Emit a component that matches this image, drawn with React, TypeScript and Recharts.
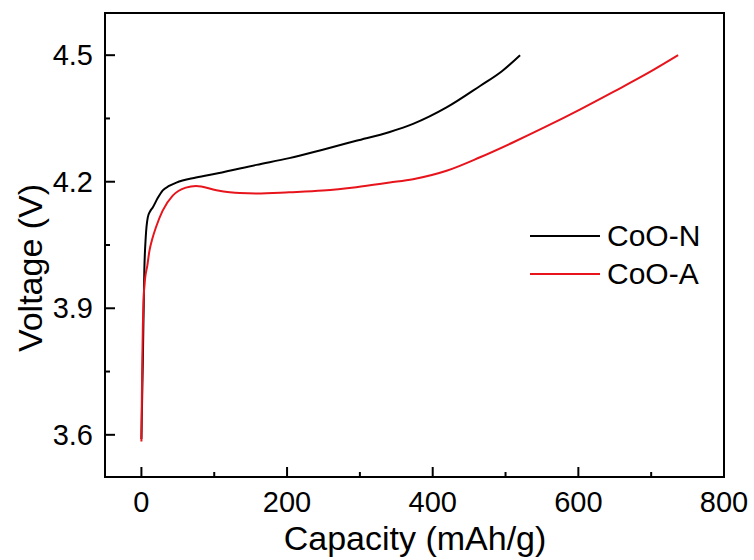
import React from "react";
import {
  LineChart,
  Line,
  XAxis,
  YAxis,
  Legend,
  ReferenceArea,
} from "recharts";

// CoO-N charge curve
const capN = [0, 2, 4, 6, 8.7, 12, 15.6, 22, 29, 38, 48, 75, 105, 158, 203, 249, 295, 341, 373, 419, 465, 495, 520];
const voltN = [3.59, 3.78, 3.99, 4.07, 4.115, 4.13, 4.139, 4.16, 4.179, 4.19, 4.198, 4.21, 4.22, 4.24, 4.256, 4.276, 4.297, 4.318, 4.337, 4.376, 4.427, 4.462, 4.5];

// CoO-A charge curve
const capA = [0, 1, 2, 3, 5, 8, 11, 15, 20, 29, 43, 61, 75, 103, 135, 158, 203, 249, 295, 341, 373, 419, 465, 510, 556, 602, 648, 694, 737];
const voltA = [3.584, 3.75, 3.86, 3.92, 3.97, 4.0, 4.036, 4.065, 4.092, 4.131, 4.167, 4.186, 4.19, 4.18, 4.173, 4.172, 4.175, 4.179, 4.187, 4.198, 4.206, 4.226, 4.258, 4.293, 4.331, 4.371, 4.413, 4.456, 4.5];

const seriesNames = ["CoO-N", "CoO-A"];
const xTicks = [0, 100, 200, 300, 400, 500, 600, 700, 800];
const xLabels = [0, 200, 400, 600, 800];
const yTicks = [3.6, 3.75, 3.9, 4.05, 4.2, 4.35, 4.5];
const yLabels = [3.6, 3.9, 4.2, 4.5];

const dataN = capN.map((c, i) => ({ cap: c, v: voltN[i] }));
const dataA = capA.map((c, i) => ({ cap: c, v: voltA[i] }));

const font = "'Liberation Sans', Arial, sans-serif";
const RED = "#e8141c";

const XTick = (props: any) => {
  const { x, y, payload } = props;
  const major = xLabels.includes(payload.value);
  return (
    <g>
      <line x1={x} x2={x} y1={y} y2={y - (major ? 10 : 5)} stroke="#000" strokeWidth={2} />
      {major && (
        <text x={x} y={y + 35} textAnchor="middle" fontSize={29} fontFamily={font} fill="#000">
          {payload.value}
        </text>
      )}
    </g>
  );
};

const YTick = (props: any) => {
  const { x, y, payload } = props;
  const major = yLabels.some((v) => Math.abs(v - payload.value) < 1e-6);
  return (
    <g>
      <line x1={x} x2={x + (major ? 10 : 5)} y1={y} y2={y} stroke="#000" strokeWidth={2} />
      {major && (
        <text x={x - 12} y={y + 10} textAnchor="end" fontSize={29} fontFamily={font} fill="#000">
          {payload.value.toFixed(1)}
        </text>
      )}
    </g>
  );
};

const LegendBox = (props: any) => {
  const items = [...(props.payload || [])].sort(
    (a: any, b: any) => seriesNames.indexOf(a.value) - seriesNames.indexOf(b.value)
  );
  return (
    <svg width={200} height={80} style={{ display: "block" }}>
      {items.map((it: any, i: number) => (
        <g key={it.value}>
          <line x1={0} x2={70} y1={18 + i * 38} y2={18 + i * 38} stroke={it.color} strokeWidth={2} />
          <text x={77} y={18 + i * 38 + 10} fontSize={30} fontFamily={font} fill="#000">
            {it.value}
          </text>
        </g>
      ))}
    </svg>
  );
};

export default function App() {
  return (
    <div style={{ position: "absolute", left: 0, top: 0, width: 754, height: 560, background: "#fff" }}>
      <LineChart
        width={754}
        height={560}
        margin={{ top: 13, right: 30, left: 0, bottom: 0 }}
      >
        <XAxis
          type="number"
          dataKey="cap"
          domain={[-50, 800]}
          ticks={xTicks}
          interval={0}
          allowDataOverflow
          height={83}
          tickSize={0}
          tickMargin={0}
          tickLine={false}
          axisLine={{ stroke: "#000", strokeWidth: 2 }}
          tick={<XTick />}
          label={() => (
            <text x={415} y={550} textAnchor="middle" fontSize={34} fontFamily={font} fill="#000">
              Capacity (mAh/g)
            </text>
          )}
        />
        <YAxis
          type="number"
          dataKey="v"
          domain={[3.5, 4.6]}
          ticks={yTicks}
          interval={0}
          allowDataOverflow
          width={105}
          tickSize={0}
          tickMargin={0}
          tickLine={false}
          axisLine={{ stroke: "#000", strokeWidth: 2 }}
          tick={<YTick />}
          label={() => (
            <text
              x={30}
              y={268}
              textAnchor="middle"
              dominantBaseline="central"
              fontSize={34}
              fontFamily={font}
              fill="#000"
              transform="rotate(-90, 30, 268)"
            >
              Voltage (V)
            </text>
          )}
        />
        <ReferenceArea
          x1={-50}
          x2={800}
          y1={3.5}
          y2={4.6}
          fill="none"
          stroke="#000"
          strokeWidth={2}
          fillOpacity={0}
        />
        <Line
          data={dataN}
          dataKey="v"
          name={seriesNames[0]}
          stroke="#000"
          strokeWidth={2}
          dot={false}
          type="monotone"
          isAnimationActive={false}
        />
        <Line
          data={dataA}
          dataKey="v"
          name={seriesNames[1]}
          stroke={RED}
          strokeWidth={2}
          dot={false}
          type="monotone"
          isAnimationActive={false}
        />
        <Legend
          layout="horizontal"
          verticalAlign="middle"
          align="center"
          content={<LegendBox />}
          wrapperStyle={{ left: 530, top: 218, width: 200, height: 80 }}
        />
      </LineChart>
    </div>
  );
}
